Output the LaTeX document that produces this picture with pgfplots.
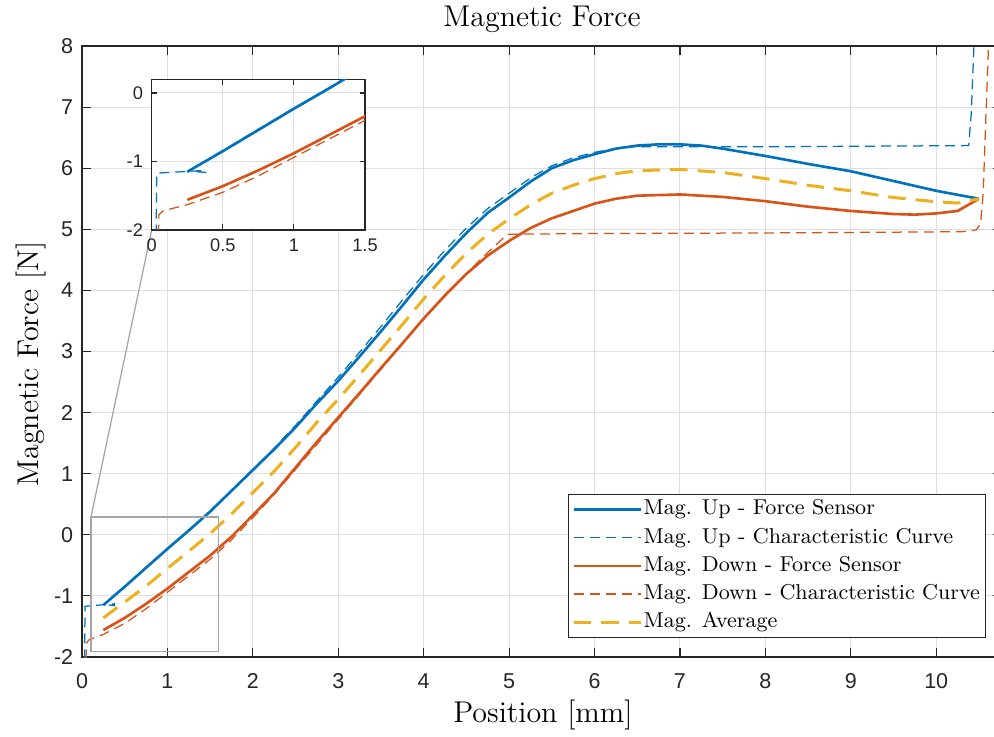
\documentclass[border=0pt]{standalone}
\usepackage{fontspec}
\usepackage{pgfplots}
\usepackage{pgfplotstable}
\pgfplotsset{compat=1.18}
\newfontfamily\tickfont{Liberation Sans}
\definecolor{mblue}{rgb}{0,0.447,0.741}
\definecolor{morange}{rgb}{0.85,0.325,0.098}
\definecolor{myellow}{rgb}{0.929,0.694,0.125}
\definecolor{gridc}{RGB}{223,223,223}
\definecolor{axc}{RGB}{38,38,38}
\definecolor{zoomc}{RGB}{165,165,165}

\pgfplotstableread{
x y
0.25 -1.15
0.5 -0.85
0.75 -0.54
1.0 -0.23
1.25 0.07
1.5 0.38
1.75 0.72
2.0 1.06
2.25 1.40
2.5 1.76
2.75 2.15
3.0 2.52
3.25 2.92
3.5 3.33
3.75 3.75
4.0 4.18
4.25 4.57
4.5 4.94
4.75 5.27
5.0 5.52
5.25 5.78
5.5 6.00
5.75 6.13
6.0 6.23
6.25 6.32
6.5 6.37
6.75 6.39
7.0 6.39
7.25 6.37
7.5 6.32
8.0 6.20
8.5 6.07
9.0 5.95
9.5 5.79
10.0 5.63
10.5 5.50
}\upF

\pgfplotstableread{
x y
0.03 -2.3
0.035 -1.17
0.38 -1.13
0.38 -1.16
0.26 -1.14
0.5 -0.84
0.75 -0.53
1.0 -0.22
1.25 0.08
1.5 0.39
1.75 0.73
2.0 1.07
2.25 1.42
2.5 1.79
2.75 2.19
3.0 2.58
3.25 2.99
3.5 3.41
3.75 3.84
4.0 4.26
4.25 4.66
4.5 5.02
4.75 5.34
5.0 5.59
5.25 5.84
5.5 6.04
5.75 6.17
6.0 6.26
6.25 6.32
6.45 6.35
8.0 6.35
10.38 6.37
10.41 6.9
10.45 8.3
}\upC

\pgfplotstableread{
x y
0.25 -1.56
0.5 -1.36
0.75 -1.13
1.0 -0.88
1.25 -0.61
1.5 -0.34
1.75 -0.03
2.0 0.32
2.25 0.68
2.5 1.10
2.75 1.52
3.0 1.92
3.25 2.32
3.5 2.73
3.75 3.13
4.0 3.54
4.25 3.92
4.5 4.27
4.75 4.57
5.0 4.81
5.25 5.02
5.5 5.18
5.75 5.30
6.0 5.42
6.25 5.50
6.5 5.55
7.0 5.57
7.5 5.53
8.0 5.46
8.5 5.37
9.0 5.30
9.5 5.25
9.75 5.24
10.0 5.26
10.25 5.30
10.5 5.50
}\downF

\pgfplotstableread{
x y
0.045 -2.3
0.05 -1.78
0.08 -1.72
0.25 -1.63
0.5 -1.45
0.75 -1.21
1.0 -0.94
1.25 -0.67
1.5 -0.40
1.75 -0.08
2.0 0.28
2.25 0.66
2.5 1.07
3.0 1.89
3.5 2.71
4.0 3.53
4.5 4.28
4.75 4.62
4.98 4.92
6.0 4.93
8.0 4.94
10.3 4.96
10.47 4.99
10.52 5.1
10.55 5.6
10.58 6.8
10.62 8.3
}\downC

\pgfplotstableread{
x y
0.25 -1.36
0.5 -1.10
0.75 -0.84
1.0 -0.55
1.25 -0.27
1.5 0.02
1.75 0.34
2.0 0.69
2.25 1.04
2.5 1.43
2.75 1.84
3.0 2.22
3.25 2.62
3.5 3.03
3.75 3.44
4.0 3.86
4.25 4.25
4.5 4.61
4.75 4.92
5.0 5.17
5.25 5.40
5.5 5.59
5.75 5.72
6.0 5.83
6.25 5.91
6.5 5.96
7.0 5.98
7.5 5.93
8.0 5.83
8.5 5.72
9.0 5.63
9.5 5.52
10.0 5.45
10.25 5.43
10.5 5.50
}\avg

\begin{document}
\begin{tikzpicture}
\pgfplotsset{
  upF/.style={mblue, line width=1.05pt},
  upC/.style={mblue, line width=0.5pt, dash pattern=on 4pt off 2.4pt},
  downF/.style={morange, line width=1.05pt},
  downC/.style={morange, line width=0.5pt, dash pattern=on 4pt off 2.4pt},
  avgS/.style={myellow, line width=1.2pt, dash pattern=on 7pt off 4pt},
}
\begin{axis}[
  at={(0pt,0pt)}, anchor=south west,
  scale only axis, width=368pt, height=244.4pt,
  xmin=0, xmax=10.77, ymin=-2, ymax=8,
  xtick={0,1,2,3,4,5,6,7,8,9,10},
  xticklabels={0,1,2,3,4,5,6,7,8,9,10},
  ytick={-2,-1,0,1,2,3,4,5,6,7,8},
  yticklabels={-2,-1,0,1,2,3,4,5,6,7,8},
  grid=major, major grid style={gridc, line width=0.4pt},
  tick align=inside, tick pos=both,
  major tick length=3.6pt,
  every tick/.style={axc, line width=0.45pt},
  axis line style={axc, line width=0.45pt},
  ticklabel style={font=\tickfont\fontsize{8.6}{10}\selectfont, text=axc},
  xticklabel style={yshift=-3.2pt},
  every axis title shift=0pt,
  title={Magnetic Force},
  title style={font=\fontsize{12}{14}\selectfont, at={(axis description cs:0.5,1.0316)}, anchor=base},
  xlabel={Position [mm]},
  xlabel style={font=\fontsize{12}{14}\selectfont, at={(axis description cs:0.501,-0.1076)}, anchor=base},
  ylabel={Magnetic Force [N]},
  ylabel style={font=\fontsize{12}{14}\selectfont, at={(axis description cs:-0.0478,0.4795)}, anchor=base},
  legend style={at={(axis description cs:0.9826,0.0311)}, anchor=south east,
    font=\fontsize{8.6}{10.5}\selectfont, draw=axc, line width=0.45pt, fill=white,
    inner xsep=1.6pt, inner ysep=0.4pt,
    nodes={inner ysep=1.6pt, inner xsep=0.6pt, text height=6.3pt, text depth=1.8pt}},
  legend cell align=left,
  legend image code/.code={\draw[#1] (0pt,0pt) -- (26.7pt,0pt);},
]
\addplot[upF] table {\upF};
\addlegendentry{Mag. Up - Force Sensor}
\addplot[upC] table {\upC};
\addlegendentry{Mag. Up - Characteristic Curve}
\addplot[downF] table {\downF};
\addlegendentry{Mag. Down - Force Sensor}
\addplot[downC] table {\downC};
\addlegendentry{Mag. Down - Characteristic Curve}
\addplot[avgS] table {\avg};
\addlegendentry{Mag. Average}
\addplot[zoomc, line width=0.5pt, forget plot] coordinates {(0.105,-1.91) (1.60,-1.91) (1.60,0.29) (0.105,0.29) (0.105,-1.91)};
\addplot[zoomc, line width=0.5pt, forget plot] coordinates {(0.105,0.29) (0.817,5.0)};
\end{axis}
\begin{axis}[
  at={(27.9pt,170.8pt)}, anchor=south west,
  scale only axis, width=85.3pt, height=60.3pt,
  xmin=0, xmax=1.5, ymin=-2, ymax=0.2,
  xtick={0,0.5,1,1.5}, xticklabels={0,0.5,1,1.5},
  ytick={-2,-1,0}, yticklabels={-2,-1,0},
  axis background/.style={fill=white},
  grid=major, major grid style={gridc, line width=0.4pt},
  tick align=inside, tick pos=both,
  major tick length=2.2pt,
  every tick/.style={axc, line width=0.45pt},
  axis line style={axc, line width=0.45pt},
  ticklabel style={font=\tickfont\fontsize{7.3}{8.5}\selectfont, text=axc},
]
\addplot[upF] table {\upF};
\addplot[upC] table {\upC};
\addplot[downF] table {\downF};
\addplot[downC] table {\downC};
\end{axis}
\pgfresetboundingbox
\path (-32.8pt,-31.6pt) rectangle (364.8pt,262.8pt);
\end{tikzpicture}
\end{document}
